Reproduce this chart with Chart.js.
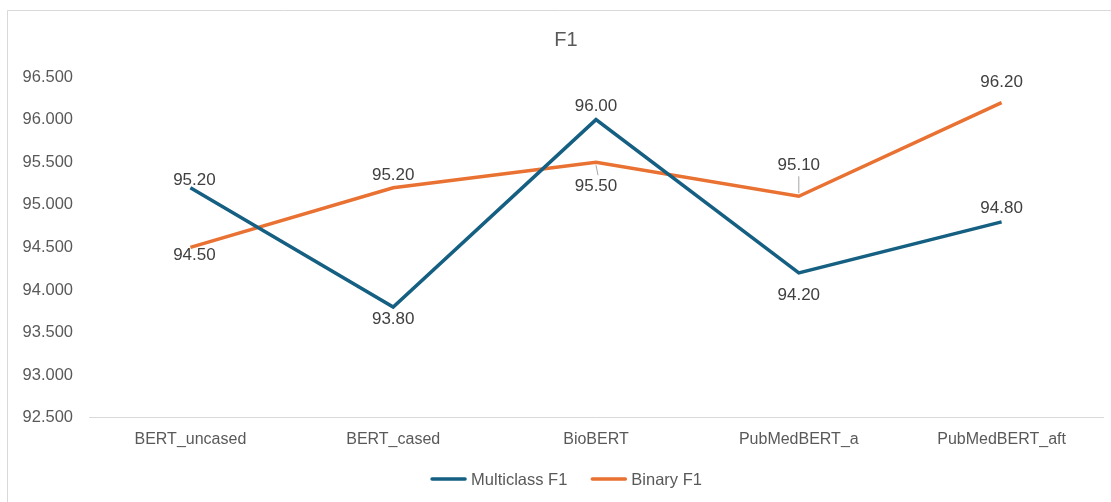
<!DOCTYPE html>
<html>
<head>
<meta charset="utf-8">
<script src="https://cdn.jsdelivr.net/npm/chart.js@4.4.1/dist/chart.umd.min.js"></script>
<style>
  html, body { margin: 0; padding: 0; background: #fff; overflow: hidden; }
  canvas { display: block; }
</style>
</head>
<body>
<canvas id="c" width="1111" height="502"></canvas>
<script>
const categories = ["BERT_uncased", "BERT_cased", "BioBERT", "PubMedBERT_a", "PubMedBERT_aft"];
const multiclassF1 = [95.2, 93.8, 96.0, 94.2, 94.8];
const binaryF1 = [94.5, 95.2, 95.5, 95.1, 96.2];
const seriesNames = ["Multiclass F1", "Binary F1"];
const chartTitle = "F1";

// label placement (pixel offsets from the point), style only
const labelOffsets = [
  [[4, -7], [0, 12], [0, -13], [0, 22], [0, -14]],
  [[4, 8], [0, -12], [0, 24], [0, -31], [0, -20]]
];
const leaderLines = [[false, false, false, false, false], [false, false, true, true, false]];
const FONT = '"Liberation Sans", Arial, sans-serif';
const FRAME_CENTER_X = 566;

const framePlugin = {
  id: 'frame',
  beforeDraw(chart) {
    const ctx = chart.ctx;
    ctx.save();
    ctx.fillStyle = '#ffffff';
    ctx.fillRect(0, 0, chart.width, chart.height);
    ctx.strokeStyle = '#d9d9d9';
    ctx.lineWidth = 1;
    ctx.beginPath();
    ctx.moveTo(7.5, chart.height);
    ctx.lineTo(7.5, 10.5);
    ctx.lineTo(chart.width, 10.5);
    ctx.stroke();
    // title
    ctx.fillStyle = '#595959';
    ctx.font = '20px ' + FONT;
    ctx.textAlign = 'center';
    ctx.textBaseline = 'middle';
    ctx.fillText(chartTitle, FRAME_CENTER_X, 40);
    ctx.restore();
  },
  afterDraw(chart) {
    // legend
    const ctx = chart.ctx;
    ctx.save();
    ctx.font = '16.5px ' + FONT;
    ctx.textBaseline = 'middle';
    ctx.textAlign = 'left';
    const lineW = 37, gapText = 4, gapItem = 23;
    const items = chart.data.datasets.map(ds => ({ ds, w: ctx.measureText(ds.label).width }));
    let total = 0;
    items.forEach((it, i) => { total += lineW + gapText + it.w + (i ? gapItem : 0); });
    let x = FRAME_CENTER_X - total / 2;
    const y = 479;
    items.forEach((it, i) => {
      if (i) x += gapItem;
      ctx.strokeStyle = it.ds.borderColor;
      ctx.lineWidth = 3.5;
      ctx.lineCap = 'round';
      ctx.beginPath();
      ctx.moveTo(x + 2, y);
      ctx.lineTo(x + lineW - 2, y);
      ctx.stroke();
      ctx.fillStyle = '#595959';
      ctx.fillText(it.ds.label, x + lineW + gapText, y + 1);
      x += lineW + gapText + it.w;
    });
    ctx.restore();
  }
};

const labelPlugin = {
  id: 'pointLabels',
  afterDatasetsDraw(chart) {
    const ctx = chart.ctx;
    ctx.save();
    ctx.font = '17px ' + FONT;
    ctx.fillStyle = '#404040';
    ctx.textAlign = 'center';
    ctx.textBaseline = 'middle';
    chart.data.datasets.forEach((ds, di) => {
      const meta = chart.getDatasetMeta(di);
      meta.data.forEach((pt, i) => {
        const off = labelOffsets[di][i];
        const lx = pt.x + off[0], ly = pt.y + off[1];
        if (leaderLines[di][i]) {
          ctx.strokeStyle = '#a6a6a6';
          ctx.lineWidth = 1;
          ctx.beginPath();
          const dir = off[1] > 0 ? 1 : -1;
          ctx.moveTo(pt.x, pt.y + dir * 3);
          ctx.lineTo(pt.x + (off[1] > 0 ? 2 : 0), ly - dir * 11);
          ctx.stroke();
        }
        ctx.fillText(ds.data[i].toFixed(2), lx, ly);
      });
    });
    ctx.restore();
  }
};

new Chart(document.getElementById('c'), {
  type: 'line',
  data: {
    labels: categories,
    datasets: [
      { label: seriesNames[0], data: multiclassF1, borderColor: '#156082', backgroundColor: '#156082', borderWidth: 3.5, pointRadius: 0, tension: 0 },
      { label: seriesNames[1], data: binaryF1, borderColor: '#E97132', backgroundColor: '#E97132', borderWidth: 3.5, pointRadius: 0, tension: 0 }
    ]
  },
  options: {
    responsive: false,
    maintainAspectRatio: false,
    animation: false,
    devicePixelRatio: 1,
    layout: { padding: { left: 0, right: 8, top: 77, bottom: 41 } },
    plugins: {
      title: { display: false },
      legend: { display: false },
      tooltip: { enabled: false }
    },
    scales: {
      x: {
        offset: true,
        grid: { display: false, drawTicks: false },
        border: { display: true, color: '#d9d9d9', width: 1 },
        ticks: { color: '#595959', padding: 12, maxRotation: 0, font: { family: FONT, size: 16 } }
      },
      y: {
        min: 92.5, max: 96.5,
        afterFit(scale) { scale.width = 89; },
        grid: { display: false, drawTicks: false },
        border: { display: false },
        ticks: {
          stepSize: 0.5, color: '#595959', padding: 16,
          font: { family: FONT, size: 16.5 },
          callback: v => Number(v).toFixed(3)
        }
      }
    }
  },
  plugins: [framePlugin, labelPlugin]
});
</script>
</body>
</html>
